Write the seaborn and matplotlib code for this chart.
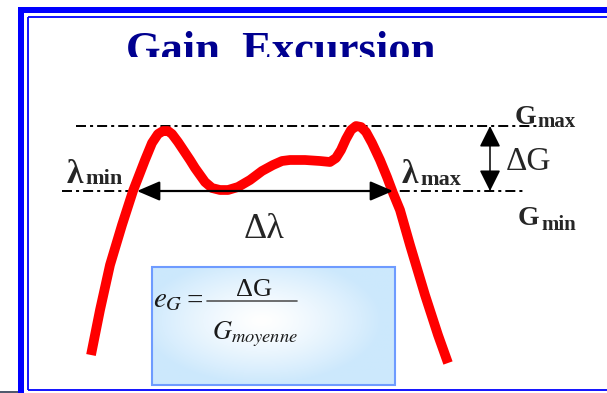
import numpy as np
import matplotlib
matplotlib.use("Agg")
import matplotlib.pyplot as plt
import seaborn as sns
from matplotlib.patches import Rectangle, FancyArrowPatch, ArrowStyle

# gain spectrum (wavelength in arbitrary units, gain in arbitrary units)
wavelength = [91, 100, 110, 122, 133, 145, 152, 158, 163, 168, 172, 178, 190, 195, 205, 212,
              220, 228, 238, 250, 262, 273, 282, 290, 305, 320, 330, 336, 341, 346, 351, 356,
              361, 366, 372, 380, 387, 393, 400, 410, 425, 438, 448]
gain = [38, 83, 128, 168, 202, 233, 250, 259, 262, 262, 259, 251, 233, 225, 211, 205,
        203, 203, 206, 213, 222, 228, 232, 233, 233, 232, 231, 235, 243, 254, 263, 267,
        266, 261, 250, 233, 216, 200, 183, 148, 98, 58, 30]

g_max = 267
g_min = 202
lambda_min = 137
lambda_max = 393

H = 393


def Y(px):
    # slide pixel row -> gain axis
    return H - px


sns.set_style("white")
plt.rcParams['font.family'] = ['Liberation Serif', 'DejaVu Serif']
plt.rcParams['mathtext.fontset'] = 'stix'
plt.rcParams['lines.scale_dashes'] = False

fig = plt.figure(figsize=(6.07, 3.93), dpi=100)
ax = fig.add_axes([0, 0, 1, 1])

# slide frame
blue = '#0000ff'
ax.add_patch(Rectangle((18, 0), 6, Y(7), color=blue, lw=0))
ax.add_patch(Rectangle((18, Y(13)), 607, 6, color=blue, lw=0))
ax.plot([27.5, 27.5], [Y(390), Y(16.5)], color=blue, lw=1.3, solid_capstyle='butt')
ax.plot([27.5, 607], [Y(16.5), Y(16.5)], color=blue, lw=1.3, solid_capstyle='butt')
ax.plot([27.5, 607], [Y(390), Y(390)], color=blue, lw=1.3, solid_capstyle='butt')
ax.add_patch(Rectangle((0, 0), 18, 2.5, color='#505a6e', lw=0))

# title, cut off at the bottom like on the slide
title = ax.text(126, Y(62), "Gain  Excursion", fontsize=32, fontweight='bold',
                color='#000090', ha='left', va='baseline')
clip = Rectangle((0, Y(57)), 607, 100, transform=ax.transData)
title.set_clip_on(True)
title.set_clip_path(clip)

# formula box with soft gradient
bx0, bx1, by0, by1 = 152, 395, 267, 385
ny, nx = 120, 240
yy, xx = np.mgrid[0:ny, 0:nx]
r = np.sqrt(((xx / nx - 0.45) / 0.55) ** 2 + ((yy / ny - 0.45) / 0.6) ** 2)
t = np.clip(r / 0.9, 0, 1) ** 1.3
edge = np.array([0.80, 0.91, 0.99])
img = (1 - t)[..., None] * np.ones(3) + t[..., None] * edge
ax.imshow(img, extent=(bx0, bx1, Y(by1), Y(by0)), aspect='auto', zorder=1)
ax.add_patch(Rectangle((bx0, Y(by1)), bx1 - bx0, by1 - by0, fill=False,
                       edgecolor='#6e9bff', lw=1.5, zorder=2))

fc = '#1a1a1a'
ax.text(153, Y(307), r"$e_G$", fontsize=21, color=fc, ha='left', va='baseline', zorder=3)
ax.text(186, Y(309), "=", fontsize=21, color=fc, ha='left', va='baseline', zorder=3)
ax.text(254, Y(296), "ΔG", fontsize=19, color=fc, ha='center', va='baseline', zorder=3)
ax.plot([207, 297], [Y(301), Y(301)], color='#555555', lw=1.2, zorder=3)
ax.text(212, Y(339), r"$G_{moyenne}$", fontsize=19, color=fc, ha='left', va='baseline', zorder=3)

# Gmax / Gmin levels
dash = (0, (7.2, 2.9, 2.2, 2.9))
ax.plot([76, 537], [g_max, g_max], color='black', lw=1.4, linestyle=dash, zorder=3)
ax.plot([62, 525], [g_min, g_min], color='black', lw=1.4, linestyle=dash, zorder=3)

# gain curve
sns.lineplot(x=wavelength, y=gain, sort=False, color='#ff0000', linewidth=7, ax=ax, zorder=4)
for ln in ax.get_lines()[-1:]:
    ln.set_solid_joinstyle('round')
    ln.set_solid_capstyle('butt')

# arrows
ax.add_patch(FancyArrowPatch((lambda_min, g_min), (lambda_max, g_min),
                             arrowstyle=ArrowStyle('<|-|>', head_length=14, head_width=6),
                             mutation_scale=1, lw=1.6, color='black',
                             shrinkA=0, shrinkB=0, zorder=5))
ax.add_patch(FancyArrowPatch((490, g_min), (490, g_max),
                             arrowstyle=ArrowStyle('<|-|>', head_length=13, head_width=6.5),
                             mutation_scale=1, lw=1.1, color='black',
                             shrinkA=0, shrinkB=0, zorder=5))

# labels
ax.text(515, Y(124), "G", fontsize=20, fontweight='bold', ha='left', va='baseline')
ax.text(537, Y(127), "max", fontsize=15, fontweight='bold', ha='left', va='baseline')
ax.text(518, Y(225), "G", fontsize=20, fontweight='bold', ha='left', va='baseline')
ax.text(541, Y(230), "min", fontsize=15, fontweight='bold', ha='left', va='baseline')
ax.text(506, Y(170), "ΔG", fontsize=24, ha='left', va='baseline')
ax.text(67, Y(183), "λ", fontsize=24, fontweight='bold', ha='left', va='baseline')
ax.text(85, Y(184), "min", fontsize=16, fontweight='bold', ha='left', va='baseline')
ax.text(402, Y(183), "λ", fontsize=24, fontweight='bold', ha='left', va='baseline')
ax.text(420, Y(185), "max", fontsize=16, fontweight='bold', ha='left', va='baseline')
ax.text(244, Y(238), "Δλ", fontsize=26, ha='left', va='baseline')

ax.set_xlim(0, 607)
ax.set_ylim(0, H)
ax.axis('off')

fig.savefig("out.png", dpi=100)
